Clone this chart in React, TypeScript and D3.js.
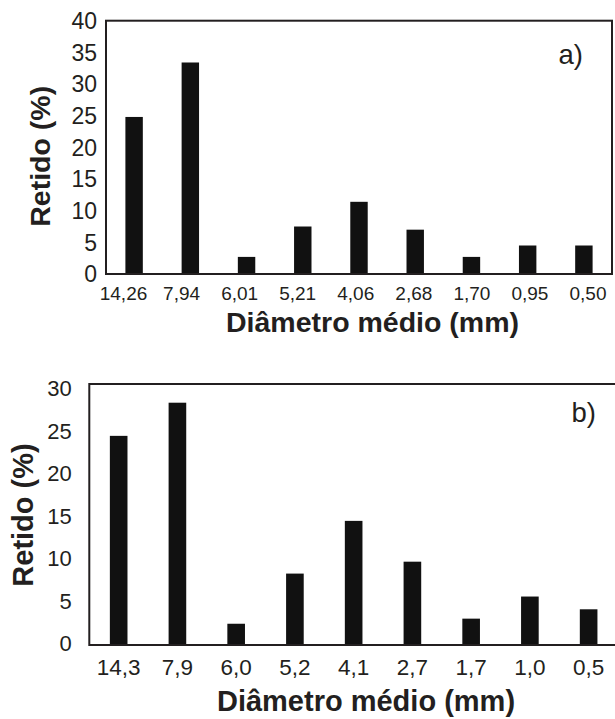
import React from "react";
import * as d3 from "d3";

const catsA = ["14,26", "7,94", "6,01", "5,21", "4,06", "2,68", "1,70", "0,95", "0,50"];
const valsA = [24.8, 33.4, 2.7, 7.5, 11.4, 7.0, 2.7, 4.5, 4.5];
const ticksA = [0, 5, 10, 15, 20, 25, 30, 35, 40];

const catsB = ["14,3", "7,9", "6,0", "5,2", "4,1", "2,7", "1,7", "1,0", "0,5"];
const valsB = [24.6, 28.5, 2.5, 8.4, 14.6, 9.8, 3.1, 5.7, 4.2];
const ticksB = [0, 5, 10, 15, 20, 25, 30];

const labelA = "a)";
const labelB = "b)";
const xTitle = "Diâmetro médio (mm)";
const yTitle = "Retido (%)";

const FONT = "'Liberation Sans', Arial, Helvetica, sans-serif";
const INK = "#231f20";
const BAR = "#111111";

export default function App() {
  // Panel A
  const a = { l: 106, r: 612, t: 20.7, b: 274 };
  const xA = d3.scaleBand<string>().domain(catsA).range([a.l, a.r]).paddingInner(0.69).paddingOuter(0.345);
  const xLabA = d3.scalePoint<string>().domain(catsA).range([123.5, 588]);
  const yA = d3.scaleLinear().domain([0, 40]).range([a.b, a.t]);

  // Panel B
  const b = { l: 89.3, r: 618, t: 384, b: 645 };
  const xB = d3.scaleBand<string>().domain(catsB).range([b.l, b.r]).paddingInner(0.7).paddingOuter(0.35);
  const yB = d3.scaleLinear().domain([0, 30.7]).range([b.b, b.t]);

  return (
    <svg width={615} height={719} style={{ display: "block", background: "#fff" }} fontFamily={FONT}>
      <style>{`body{margin:0}`}</style>
      {/* ---------- Panel A ---------- */}
      <g>
        {catsA.map((c, i) => (
          <rect key={c} x={xA(c)} y={yA(valsA[i])} width={xA.bandwidth()} height={yA(0) - yA(valsA[i])} fill={BAR} />
        ))}
        <rect x={a.l} y={a.t} width={a.r - a.l} height={a.b - a.t} fill="none" stroke={INK} strokeWidth={2} />
        {ticksA.map((t) => (
          <text key={t} x={97} y={yA(t)} dy="0.36em" textAnchor="end" fontSize={23} fill={INK}>
            {t}
          </text>
        ))}
        {catsA.map((c) => (
          <text key={c} x={xLabA(c)} y={300} textAnchor="middle" fontSize={19} fill={INK}>
            {c}
          </text>
        ))}
        <text x={372.5} y={332} textAnchor="middle" fontSize={28.5} fontWeight="bold" fill={INK}>
          {xTitle}
        </text>
        <text transform={`translate(50,156.3) rotate(-90)`} textAnchor="middle" fontSize={28.5} fontWeight="bold" fill={INK}>
          {yTitle}
        </text>
        <text x={583} y={63.5} textAnchor="end" fontSize={27.5} fill={INK}>
          {labelA}
        </text>
      </g>

      {/* ---------- Panel B ---------- */}
      <g>
        {catsB.map((c, i) => (
          <rect key={c} x={xB(c)} y={yB(valsB[i])} width={xB.bandwidth()} height={yB(0) - yB(valsB[i])} fill={BAR} />
        ))}
        <rect x={b.l} y={b.t} width={b.r - b.l} height={b.b - b.t} fill="none" stroke={INK} strokeWidth={2} />
        {ticksB.map((t) => (
          <text key={t} x={71.7} y={yB(t) - 1.5} dy="0.36em" textAnchor="end" fontSize={22} fill={INK}>
            {t}
          </text>
        ))}
        {catsB.map((c) => (
          <text key={c} x={(xB(c) as number) + xB.bandwidth() / 2} y={675} textAnchor="middle" fontSize={22.5} fill={INK}>
            {c}
          </text>
        ))}
        <text x={366} y={711} textAnchor="middle" fontSize={29} fontWeight="bold" fill={INK}>
          {xTitle}
        </text>
        <text transform={`translate(33,515) rotate(-90)`} textAnchor="middle" fontSize={29} fontWeight="bold" fill={INK}>
          {yTitle}
        </text>
        <text x={596} y={421.7} textAnchor="end" fontSize={27.5} fill={INK}>
          {labelB}
        </text>
      </g>
    </svg>
  );
}
